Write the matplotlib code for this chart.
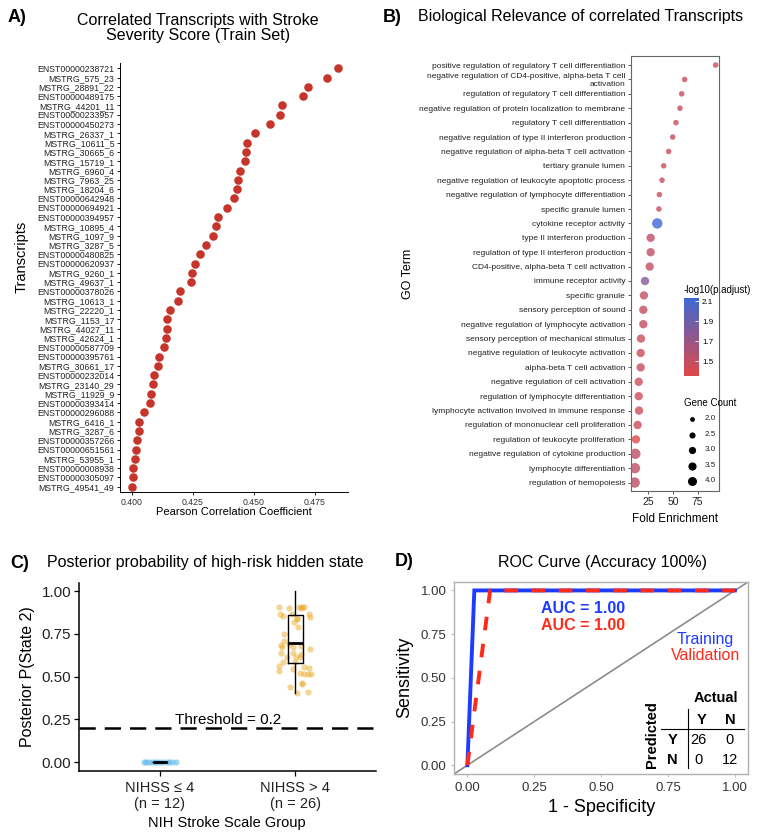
import numpy as np
import matplotlib
matplotlib.use("Agg")
import matplotlib.pyplot as plt
from matplotlib.colors import LinearSegmentedColormap, Normalize
from matplotlib.cm import ScalarMappable

plt.rcParams['font.family'] = ['Liberation Sans', 'DejaVu Sans']

W, H = 760, 839

# ---- panel A: correlated transcripts ----
transcripts = [
    "ENST00000238721", "MSTRG_575_23", "MSTRG_28891_22", "ENST00000489175",
    "MSTRG_44201_11", "ENST00000233957", "ENST00000450273", "MSTRG_26337_1",
    "MSTRG_10611_5", "MSTRG_30665_6", "MSTRG_15719_1", "MSTRG_6960_4",
    "MSTRG_7963_25", "MSTRG_18204_6", "ENST00000642948", "ENST00000694921",
    "ENST00000394957", "MSTRG_10895_4", "MSTRG_1097_9", "MSTRG_3287_5",
    "ENST00000480825", "ENST00000620937", "MSTRG_9260_1", "MSTRG_49637_1",
    "ENST00000378026", "MSTRG_10613_1", "MSTRG_22220_1", "MSTRG_1153_17",
    "MSTRG_44027_11", "MSTRG_42624_1", "ENST00000587709", "ENST00000395761",
    "MSTRG_30661_17", "ENST00000232014", "MSTRG_23140_29", "MSTRG_11929_9",
    "ENST00000393414", "ENST00000296088", "MSTRG_6416_1", "MSTRG_3287_6",
    "ENST00000357266", "ENST00000651561", "MSTRG_53955_1", "ENST00000008938",
    "ENST00000305097", "MSTRG_49541_49",
]
pearson_r = [
    0.4843, 0.4799, 0.4723, 0.4702, 0.4615, 0.4607, 0.4566, 0.4504,
    0.4471, 0.4466, 0.4462, 0.4443, 0.4436, 0.4429, 0.4417, 0.4389,
    0.4354, 0.4343, 0.4332, 0.4302, 0.4279, 0.4260, 0.4245, 0.4242,
    0.4198, 0.4190, 0.4157, 0.4145, 0.4143, 0.4138, 0.4132, 0.4111,
    0.4105, 0.4089, 0.4087, 0.4078, 0.4075, 0.4050, 0.4030, 0.4027,
    0.4019, 0.4015, 0.4012, 0.4003, 0.4003, 0.3999,
]

# ---- panel B: GO enrichment ----
go_terms = [
    "positive regulation of regulatory T cell differentiation",
    "negative regulation of CD4-positive, alpha-beta T cell\nactivation",
    "regulation of regulatory T cell differentiation",
    "negative regulation of protein localization to membrane",
    "regulatory T cell differentiation",
    "negative regulation of type II interferon production",
    "negative regulation of alpha-beta T cell activation",
    "tertiary granule lumen",
    "negative regulation of leukocyte apoptotic process",
    "negative regulation of lymphocyte differentiation",
    "specific granule lumen",
    "cytokine receptor activity",
    "type II interferon production",
    "regulation of type II interferon production",
    "CD4-positive, alpha-beta T cell activation",
    "immune receptor activity",
    "specific granule",
    "sensory perception of sound",
    "negative regulation of lymphocyte activation",
    "sensory perception of mechanical stimulus",
    "negative regulation of leukocyte activation",
    "alpha-beta T cell activation",
    "negative regulation of cell activation",
    "regulation of lymphocyte differentiation",
    "lymphocyte activation involved in immune response",
    "regulation of mononuclear cell proliferation",
    "regulation of leukocyte proliferation",
    "negative regulation of cytokine production",
    "lymphocyte differentiation",
    "regulation of hemopoiesis",
]
fold_enrichment = [
    93.2, 61.8, 58.8, 57.1, 53.0, 49.7, 45.6, 40.6, 38.9, 36.2,
    35.8, 34.1, 27.4, 27.4, 26.4, 21.7, 20.6, 20.0, 20.0, 17.6,
    17.3, 17.3, 15.3, 15.3, 15.6, 14.2, 12.5, 11.9, 11.5, 11.2,
]
neg_log_padj = [
    1.46, 1.46, 1.46, 1.46, 1.46, 1.46, 1.46, 1.46, 1.46, 1.46,
    1.46, 2.13, 1.50, 1.50, 1.50, 1.80, 1.48, 1.48, 1.48, 1.46,
    1.46, 1.46, 1.45, 1.45, 1.45, 1.45, 1.36, 1.52, 1.52, 1.52,
]
gene_count = [
    2, 2, 2, 2, 2, 2, 2, 2, 2, 2,
    2, 4, 3, 3, 3, 3, 3, 3, 3, 3,
    3, 3, 3, 3, 3, 3, 3, 4, 4, 4,
]
count_levels = [2.0, 2.5, 3.0, 3.5, 4.0]
padj_ticks = [1.5, 1.7, 1.9, 2.1]

# ---- panel C: posterior probability ----
group_labels = ["NIHSS \u2264 4\n(n = 12)", "NIHSS > 4\n(n = 26)"]
low_jitter = [-0.12, -0.10, -0.08, -0.06, -0.04, -0.02, 0.0, 0.02, 0.05, 0.07, 0.09, 0.12]
low_prob = [0.0, 0.0, 0.0, 0.0, 0.0, 0.0, 0.0, 0.0, 0.0, 0.0, 0.0, 0.0]
high_jitter = [
    -0.118, -0.049, 0.029, 0.049, 0.066, 0.039, -0.113, -0.093, -0.027, 0.010,
    0.104, 0.109, 0.010, -0.007, 0.022, -0.081, -0.083, -0.106, -0.096, -0.044,
    -0.020, -0.015, -0.108, 0.109, 0.044, 0.042, -0.064, 0.005, 0.034, -0.093,
    0.000, -0.118, -0.118, -0.017, 0.061, 0.104, 0.034, 0.064, 0.096, 0.113,
    0.047, 0.052, -0.039, 0.094, 0.015,
]
high_prob = [
    0.909, 0.901, 0.910, 0.905, 0.910, 0.900, 0.866, 0.857, 0.866, 0.840,
    0.866, 0.850, 0.845, 0.820, 0.790, 0.752, 0.711, 0.688, 0.672, 0.692,
    0.676, 0.638, 0.638, 0.665, 0.680, 0.634, 0.617, 0.615, 0.615, 0.585,
    0.585, 0.560, 0.533, 0.547, 0.556, 0.551, 0.521, 0.517, 0.517, 0.517,
    0.466, 0.457, 0.440, 0.409, 0.405,
]
high_box = dict(whislo=0.405, q1=0.579, med=0.695, q3=0.862, whishi=1.0)
low_box = dict(whislo=0.0, q1=0.0, med=0.0, q3=0.0, whishi=0.0)
threshold = 0.2

# ---- panel D: ROC ----
train_fpr = [0.0, 0.026, 1.0]
train_tpr = [0.0, 1.0, 1.0]
val_fpr = [0.0, 0.085, 1.0]
val_tpr = [0.0, 1.0, 1.0]
confusion = [[26, 0], [0, 12]]


def box(l, t, r, b):
    return [l / W, 1 - b / H, (r - l) / W, (b - t) / H]


def ftext(x, y, s, **kw):
    kw.setdefault('ha', 'center')
    kw.setdefault('va', 'center')
    fig.text(x / W, 1 - y / H, s, **kw)


def count_size(c):
    # area grows linearly with gene count
    return 16 + (c - 2) * 20


fig = plt.figure(figsize=(W / 100, H / 100), dpi=100)

# ================= A =================
axA = fig.add_axes(box(120, 62.7, 348, 492.3))
n = len(transcripts)
ypos = np.arange(n)
axA.scatter(pearson_r, ypos, s=38, color='#C5352B', linewidths=0, zorder=3)
axA.set_ylim(n - 1 + 0.6, -0.6)
axA.set_xlim(0.3951, 0.4885)
axA.set_yticks(ypos)
axA.set_yticklabels(transcripts, fontsize=6.3, color='#222')
axA.set_xticks([0.400, 0.425, 0.450, 0.475])
axA.set_xticklabels(['0.400', '0.425', '0.450', '0.475'], fontsize=6.3, color='#333')
for s in ['top', 'right']:
    axA.spines[s].set_visible(False)
for s in ['left', 'bottom']:
    axA.spines[s].set_linewidth(0.7)
axA.tick_params(length=2.5, width=0.6, pad=1.5)
ftext(8, 17, "A)", ha='left', fontsize=13, fontweight='bold')
ftext(198, 28, "Correlated Transcripts with Stroke\nSeverity Score (Train Set)",
      fontsize=11.5, linespacing=1.0)
ftext(234, 512, "Pearson Correlation Coefficient", fontsize=8)
ftext(22, 257, "Transcripts", rotation=90, fontsize=10.5)

# ================= B =================
axB = fig.add_axes(box(630.7, 56.4, 719, 491.2))
cmap = LinearSegmentedColormap.from_list('padj', ['#E04848', '#3D68D4'])
norm = Normalize(1.35, 2.133)
m = len(go_terms)
gpos = np.arange(m)
sizes = [count_size(c) for c in gene_count]
axB.scatter(fold_enrichment, gpos, s=sizes, c=neg_log_padj, cmap=cmap, norm=norm,
            alpha=0.8, linewidths=0, zorder=3)
axB.set_ylim(m - 1 + 0.6, -0.6)
axB.set_xlim(7.2, 96.6)
axB.set_yticks(gpos)
axB.set_yticklabels(go_terms, fontsize=6, color='#222')
axB.set_xticks([25, 50, 75])
axB.set_xticklabels(['25', '50', '75'], fontsize=7.5, color='#222')
for s in axB.spines.values():
    s.set_color('#666')
    s.set_linewidth(0.8)
axB.tick_params(length=2.5, width=0.6, pad=1.5, color='#444')
ftext(383, 17, "B)", ha='left', fontsize=13, fontweight='bold')
ftext(418, 17, "Biological Relevance of correlated Transcripts", ha='left', fontsize=11.5)
ftext(675, 519, "Fold Enrichment", fontsize=8.5)
ftext(408, 274, "GO Term", rotation=90, fontsize=9)

# colour bar
cax = fig.add_axes(box(684, 297.7, 699.3, 376))
cb = fig.colorbar(ScalarMappable(norm=norm, cmap=cmap), cax=cax)
cb.outline.set_visible(False)
cb.set_ticks(padj_ticks)
cb.set_ticklabels([f"{t:.1f}" for t in padj_ticks])
cax.tick_params(length=3, width=0.6, color='white', labelsize=5.8, pad=2, direction='in')
ftext(684, 290, "-log10(p.adjust)", ha='left', fontsize=7)

# size legend
ftext(684, 403, "Gene Count", ha='left', fontsize=7)
lax = fig.add_axes(box(684, 410, 740, 490))
lax.set_xlim(684, 740)
lax.set_ylim(490, 410)
lax.axis('off')
leg_y = [419, 435, 450, 465.7, 481]
for lv, yy in zip(count_levels, leg_y):
    lax.scatter([692], [yy], s=count_size(lv) * 0.75, color='black', linewidths=0)
    lax.text(705, yy, f"{lv:.1f}", fontsize=5.8, va='center', ha='left', color='#222')

# ================= C =================
axC = fig.add_axes(box(78.8, 582.7, 376.5, 770.7))
axC.scatter(np.array(low_jitter) + 1, low_prob, s=20, color='#56B4E9', alpha=0.55,
            linewidths=0, zorder=2)
axC.scatter(np.array(high_jitter) + 2, high_prob, s=20, color='#E8A317', alpha=0.45,
            linewidths=0, zorder=2)
axC.bxp([low_box, high_box], positions=[1, 2], widths=0.11, showfliers=False,
        showcaps=False, patch_artist=False,
        boxprops=dict(color='black', linewidth=1.0),
        whiskerprops=dict(color='black', linewidth=1.0),
        medianprops=dict(color='black', linewidth=2.0), zorder=3)
axC.axhline(threshold, color='black', linewidth=1.8, dashes=(6.5, 3.6), zorder=4)
axC.text(1.5, 0.246, "Threshold = 0.2", fontsize=11, ha='center', va='center', zorder=5)
axC.set_xlim(0.4, 2.6)
axC.set_ylim(-0.05, 1.05)
axC.set_yticks([0, 0.25, 0.5, 0.75, 1.0])
axC.set_yticklabels(['0.00', '0.25', '0.50', '0.75', '1.00'], fontsize=11, color='#222')
axC.set_xticks([1, 2])
axC.set_xticklabels(group_labels, fontsize=10.5, color='#222')
for s in ['top', 'right']:
    axC.spines[s].set_visible(False)
for s in ['left', 'bottom']:
    axC.spines[s].set_linewidth(1.1)
axC.tick_params(length=3.5, width=0.9, pad=2)
axC.tick_params(axis='x', pad=4)
ftext(10, 563, "C)", ha='left', fontsize=13, fontweight='bold')
ftext(47, 563, "Posterior probability of high-risk hidden state", ha='left', fontsize=11.5)
ftext(28, 677, "Posterior P(State 2)", rotation=90, fontsize=11.5)
ftext(227, 823, "NIH Stroke Scale Group", fontsize=10.5)

# ================= D =================
axD = fig.add_axes(box(454, 581.7, 748.3, 774))
axD.plot([-0.05, 1.05], [-0.05, 1.05], color='#8c8c8c', linewidth=1.2, zorder=1)
axD.plot(train_fpr, train_tpr, color='#1E3CFF', linewidth=2.8, zorder=2,
         solid_joinstyle='miter')
axD.plot(val_fpr, val_tpr, color='#FF2A1A', linewidth=2.8, dashes=(3.5, 3.5), zorder=3)
axD.set_xlim(-0.05, 1.05)
axD.set_ylim(-0.05, 1.05)
ticks = [0, 0.25, 0.5, 0.75, 1.0]
tlabels = ['0.00', '0.25', '0.50', '0.75', '1.00']
axD.set_xticks(ticks)
axD.set_xticklabels(tlabels, fontsize=9.5, color='#333')
axD.set_yticks(ticks)
axD.set_yticklabels(tlabels, fontsize=9.5, color='#333')
for s in axD.spines.values():
    s.set_color('#b0b0b0')
    s.set_linewidth(1.0)
axD.tick_params(length=2.5, width=0.6, color='#b0b0b0', pad=3)
axD.text(0.431, 0.894, "AUC = 1.00", color='#1E3CFF', fontsize=11.5, fontweight='bold',
         ha='center', va='center')
axD.text(0.431, 0.799, "AUC = 1.00", color='#FF2A1A', fontsize=11.5, fontweight='bold',
         ha='center', va='center')
axD.text(0.89, 0.719, "Training", color='#1E3CFF', fontsize=11.5, ha='center', va='center')
axD.text(0.89, 0.627, "Validation", color='#FF2A1A', fontsize=11.5, ha='center', va='center')

# confusion matrix
axD.text(0.93, 0.384, "Actual", fontsize=10.5, fontweight='bold', ha='center', va='center')
axD.text(0.689, 0.177, "Predicted", fontsize=10.5, fontweight='bold', rotation=90,
         ha='center', va='center')
axD.text(0.876, 0.259, "Y", fontsize=10.5, fontweight='bold', ha='center', va='center')
axD.text(0.981, 0.259, "N", fontsize=10.5, fontweight='bold', ha='center', va='center')
axD.text(0.767, 0.144, "Y", fontsize=10.5, fontweight='bold', ha='center', va='center')
axD.text(0.767, 0.030, "N", fontsize=10.5, fontweight='bold', ha='center', va='center')
col_x = [0.865, 0.981]
row_y = [0.144, 0.030]
for i in range(2):
    for j in range(2):
        axD.text(col_x[j], row_y[i], str(confusion[i][j]), fontsize=10.5,
                 ha='center', va='center')
axD.plot([0.722, 1.034], [0.205, 0.205], color='black', linewidth=0.8)
axD.plot([0.823, 0.823], [0.319, -0.013], color='black', linewidth=0.8)

ftext(395, 562, "D)", ha='left', fontsize=13, fontweight='bold')
ftext(603, 562, "ROC Curve (Accuracy 100%)", fontsize=11.5)
ftext(405, 677, "Sensitivity", rotation=90, fontsize=13)
ftext(602, 808, "1 - Specificity", fontsize=13)

fig.savefig("out.png", dpi=100)
